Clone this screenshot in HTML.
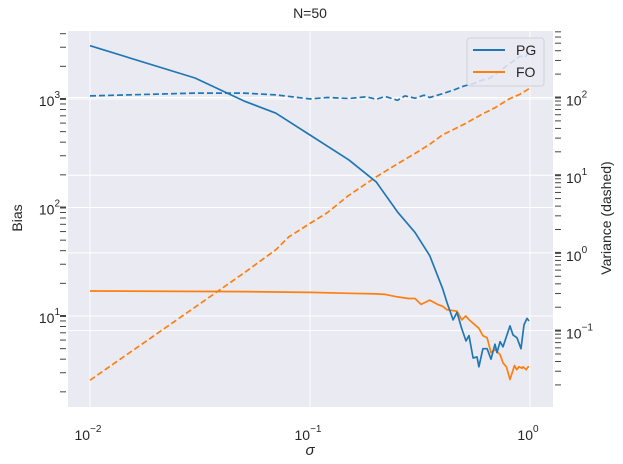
<!DOCTYPE html>
<html><head><meta charset="utf-8"><style>
body{margin:0;background:#fff;}
svg{display:block;font-family:"Liberation Sans",sans-serif;}
</style></head><body>
<svg id="chart" width="623" height="464">
<rect x="68" y="31" width="485" height="376" fill="#EAEAF2"/>
<g id="grid"></g><g id="ticks"></g><g id="series"></g>
<text x="310" y="18" text-anchor="middle" font-size="14" fill="#262626">N=50</text>
<text x="310" y="455" text-anchor="middle" font-size="15" font-style="italic" fill="#262626">σ</text>
<text transform="translate(22,218) rotate(-90)" text-anchor="middle" font-size="14" fill="#262626">Bias</text>
<text transform="translate(611,218) rotate(-90)" text-anchor="middle" font-size="14" fill="#262626">Variance (dashed)</text>
<g>
<rect x="467" y="38" width="77" height="48" rx="3" fill="#EAEAF2" fill-opacity="0.85" stroke="#d0d0d8"/>
<line x1="473" y1="50" x2="505" y2="50" stroke="#1f77b4" stroke-width="2"/>
<text x="516" y="55" font-size="14" fill="#262626">PG</text>
<line x1="473" y1="72" x2="505" y2="72" stroke="#ff7f0e" stroke-width="2"/>
<text x="516" y="77" font-size="14" fill="#262626">FO</text>
</g>
</svg>
<script>
const pgBiasX=[0.01,0.03,0.05,0.07,0.1,0.15,0.2,0.25,0.3,0.35,0.4,0.42,0.447,0.466,0.49,0.512,0.528,0.551,0.574,0.586,0.611,0.638,0.665,0.693,0.708,0.731,0.754,0.811,0.837,0.873,0.91,0.939,0.969,0.99];
const pgBias=[3100,1560,960,740,466,275,172,91,59,36,18,13.2,9.2,10.8,7.6,5.9,6.6,4.1,4.2,3.4,5.0,5.0,4.0,5.5,4.6,5.8,5.2,8.1,6.7,6.3,5.0,8.3,9.5,9.0];
const foBiasX=[0.01,0.05,0.1,0.15,0.2,0.22,0.25,0.28,0.3,0.32,0.35,0.38,0.4,0.42,0.466,0.49,0.51,0.53,0.55,0.586,0.611,0.638,0.665,0.693,0.731,0.754,0.781,0.811,0.85,0.87,0.89,0.92,0.93,0.96,0.98,0.99];
const foBias=[17,16.8,16.5,16.2,16,15.8,15,14.5,14.5,12.8,14,12.8,12.3,11.4,11.1,9.2,10,9.2,8.6,7.7,6.6,6.3,4.6,4.9,4.4,3.7,3.4,2.6,3.5,3.2,3.4,3.3,3.4,3.2,3.4,3.4];
const pgVarX=[0.01,0.03,0.05,0.07,0.1,0.12,0.15,0.18,0.2,0.22,0.25,0.27,0.3,0.33,0.35,0.4,0.45,0.5,0.55,0.6,0.65,0.7,0.75,0.8,0.85,0.9,0.95,1.0];
const pgVar=[105,114,114,108,96,100,97,102,95,103,92,105,98,107,100,112,125,140,150,165,175,200,230,270,300,340,330,400];
const foVarX=[0.01,0.02,0.03,0.05,0.07,0.08,0.1,0.12,0.15,0.2,0.25,0.3,0.35,0.4,0.5,0.6,0.7,0.8,0.9,1.0];
const foVar=[0.023,0.09,0.2,0.55,1.1,1.6,2.4,3.3,5.5,9.5,14,19,25,33,45,60,75,95,110,132];
const xTicks=[-2,-1,0];
const leftTicks=[1,2,3];
const rightTicks=[-1,0,1,2];

const NS="http://www.w3.org/2000/svg";
const X=v=>90+(Math.log10(v)+2)*220;
const YL=v=>99-(Math.log10(v)-3)*108.5;
const YR=v=>97.5-(Math.log10(v)-2)*77.7;
function mk(tag,attrs,parent){const e=document.createElementNS(NS,tag);for(const k in attrs)e.setAttribute(k,attrs[k]);parent.appendChild(e);return e;}
const grid=document.getElementById('grid'),ticks=document.getElementById('ticks'),series=document.getElementById('series');
function label(x,y,exp,anchor,name){
  const t=mk('text',{x:x,y:y,'font-size':14,fill:'#262626','text-anchor':anchor},ticks);
  
  
  t.appendChild(document.createTextNode('10'));
  const s=mk('tspan',{dy:-8,'font-size':10},t);s.textContent=String(exp);
}
xTicks.forEach(e=>{
  const x=X(Math.pow(10,e));
  const g=mk('line',{x1:x,x2:x,y1:31,y2:407,stroke:'#fff','stroke-width':1},grid);
  
  
  label(x-2,440,e<0?'\u2212'+(-e):e,'middle','x-tick-label');
});
leftTicks.forEach(e=>{
  const y=YL(Math.pow(10,e));
  const g=mk('line',{x1:68,x2:553,y1:y,y2:y,stroke:'#fff','stroke-width':1},grid);
  
  
  label(60,y+7,e,'end','left-y-tick-label');
});
rightTicks.forEach(e=>{
  const y=YR(Math.pow(10,e));
  const g=mk('line',{x1:68,x2:553,y1:y,y2:y,stroke:'#fff','stroke-width':1},grid);
  
  
  label(566,y+8,e<0?'\u2212'+(-e):e,'start','right-y-tick-label');
});
for(let d=0;d<=3;d++)for(let m=1;m<=9;m++){const y=YL(m*Math.pow(10,d));if(y<31||y>407)continue;
  const t=mk('line',{x1:60,x2:66,y1:y,y2:y,stroke:'#444','stroke-width':m==1?2:1},ticks);
  
  }
for(let d=-2;d<=2;d++)for(let m=1;m<=9;m++){const y=YR(m*Math.pow(10,d));if(y<31||y>407)continue;
  const t=mk('line',{x1:555,x2:561,y1:y,y2:y,stroke:'#444','stroke-width':m==1?2:1},ticks);
  
  }
function line(xs,ys,yf,color,dash,name){
  const d=xs.map((x,i)=>(i?'L':'M')+X(x).toFixed(1)+','+yf(ys[i]).toFixed(1)).join('');
  const p=mk('path',{d:d,fill:'none',stroke:color,'stroke-width':1.7,'stroke-dasharray':dash||'none','stroke-linejoin':'round'},series);
  
  
}
line(foVarX,foVar,YR,'#ff7f0e','6,3','fo-variance-line');
line(pgVarX,pgVar,YR,'#1f77b4','6,3','pg-variance-line');
line(foBiasX,foBias,YL,'#ff7f0e',null,'fo-bias-line');
line(pgBiasX,pgBias,YL,'#1f77b4',null,'pg-bias-line');
</script>
</body></html>
